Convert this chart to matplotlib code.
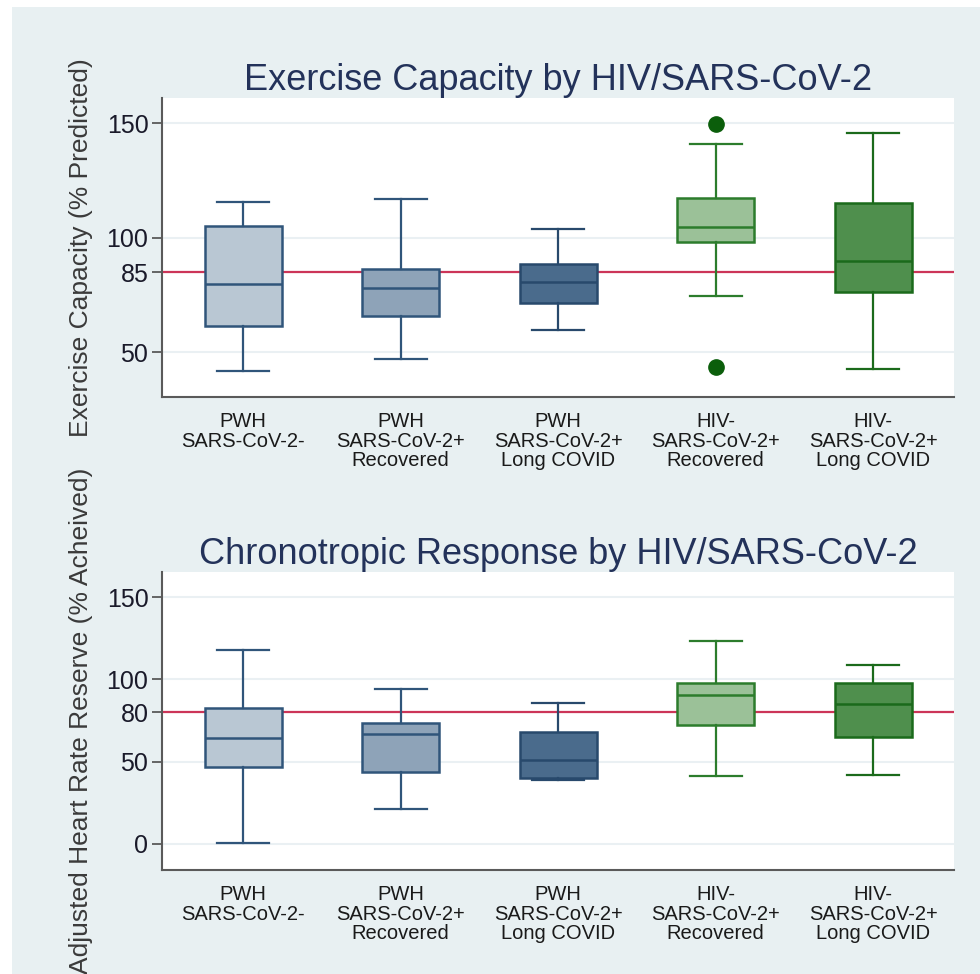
import matplotlib; matplotlib.use('Agg')
import matplotlib.pyplot as plt
import matplotlib.patches as mpatches

plt.rcParams['font.family'] = ['Liberation Sans', 'DejaVu Sans']

# groups along the x axis
groups = ['PWH\nSARS-CoV-2-', 'PWH\nSARS-CoV-2+\nRecovered', 'PWH\nSARS-CoV-2+\nLong COVID',
          'HIV-\nSARS-CoV-2+\nRecovered', 'HIV-\nSARS-CoV-2+\nLong COVID']
positions = [1, 2, 3, 4, 5]

# Exercise capacity (% predicted)
ex_lo  = [41.8, 47.0, 59.9, 74.7, 42.8]
ex_q1  = [61.4, 65.7, 71.4, 98.0, 76.3]
ex_med = [80.0, 78.2, 80.8, 104.9, 89.7]
ex_q3  = [105.3, 86.2, 88.4, 117.2, 115.2]
ex_hi  = [115.8, 116.8, 103.7, 140.8, 145.8]
ex_out = [[], [], [], [149.7, 43.7], []]
ex_ref = 85
ex_ticks = [50, 85, 100, 150]

# Adjusted heart rate reserve (% achieved)
hr_lo  = [0.6, 20.9, 38.8, 41.2, 41.8]
hr_q1  = [46.5, 43.5, 40.2, 72.2, 64.8]
hr_med = [64.3, 66.6, 51.1, 90.7, 85.0]
hr_q3  = [82.4, 73.3, 67.8, 98.0, 98.0]
hr_hi  = [117.7, 94.2, 85.4, 123.4, 108.8]
hr_out = [[], [], [], [], []]
hr_ref = 80
hr_ticks = [0, 50, 80, 100, 150]

panel_bg = '#E8F0F2'
fills = ['#B9C7D3', '#8EA3B8', '#4A6B8C', '#9BC198', '#4F8F4D']
edges = ['#30557A', '#30557A', '#28496C', '#2C7C2C', '#1B6A1B']

def make_stats(lo, q1, med, q3, hi, out):
    return [dict(whislo=a, q1=b, med=c, q3=d, whishi=e, fliers=f)
            for a, b, c, d, e, f in zip(lo, q1, med, q3, hi, out)]

fig = plt.figure(figsize=(9.8, 9.74), dpi=100)
fig.patch.set_facecolor('white')
fig.add_artist(mpatches.Rectangle((12/980, 0), 1, 1 - 7/974, transform=fig.transFigure,
                                  facecolor=panel_bg, edgecolor='none', zorder=0))

def panel(rect, stats, ref, ticks, ylim, title, ylabel):
    ax = fig.add_axes(rect)
    ax.set_facecolor('white')
    ax.axhline(ref, color='#CC3558', lw=1.6, zorder=1.5)
    bp = ax.bxp(stats, positions=positions, widths=0.49, capwidths=0.33,
                patch_artist=True, manage_ticks=False, zorder=2,
                flierprops=dict(marker='o', markerfacecolor='#0B5E0B',
                                markeredgecolor='#0B5E0B', markersize=11))
    for i in range(len(positions)):
        bp['boxes'][i].set(facecolor=fills[i], edgecolor=edges[i], linewidth=1.8)
        bp['medians'][i].set(color=edges[i], linewidth=1.8)
        for ln in bp['whiskers'][2*i:2*i+2] + bp['caps'][2*i:2*i+2]:
            ln.set(color=edges[i], linewidth=1.6)
    ax.set_xlim(0.486, 5.514)
    ax.set_ylim(*ylim)
    ax.set_yticks(ticks)
    ax.set_xticks(positions, groups)
    ax.yaxis.grid(True, color='#EAF0F3', lw=1.5)
    ax.set_axisbelow(True)
    for s in ['top', 'right']:
        ax.spines[s].set_visible(False)
    for s in ['left', 'bottom']:
        ax.spines[s].set_color('#5A5A5A')
        ax.spines[s].set_linewidth(1.5)
    ax.tick_params(axis='y', length=7, width=1.3, color='#5A5A5A',
                   labelsize=18, labelcolor='#1A1A2A', pad=3)
    ax.tick_params(axis='x', length=0, pad=11, labelcolor='#1A1A1A', labelsize=14.5)
    for lab in ax.get_xticklabels():
        lab.set_linespacing(1.02)
    ax.set_title(title, fontsize=26, color='#23325A', pad=4)
    ax.set_ylabel(ylabel, fontsize=19, color='#3A3A3A')
    ax.yaxis.set_label_coords(-0.088, 0.5)
    return ax

panel([0.1656, 0.5924, 0.8079, 0.307], make_stats(ex_lo, ex_q1, ex_med, ex_q3, ex_hi, ex_out),
      ex_ref, ex_ticks, (30.5, 161), 'Exercise Capacity by HIV/SARS-CoV-2',
      'Exercise Capacity (% Predicted)')
panel([0.1656, 0.1068, 0.8079, 0.3063], make_stats(hr_lo, hr_q1, hr_med, hr_q3, hr_hi, hr_out),
      hr_ref, hr_ticks, (-16, 165.6), 'Chronotropic Response by HIV/SARS-CoV-2',
      'Adjusted Heart Rate Reserve (% Acheived)')

fig.savefig('out.png', dpi=100, facecolor='white')
